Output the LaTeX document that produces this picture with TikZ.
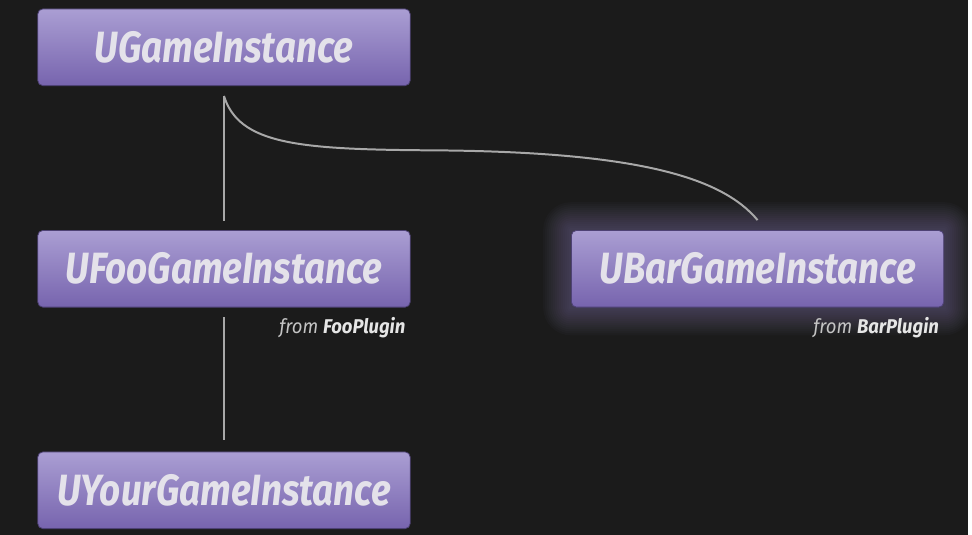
\documentclass[tikz,border=0pt]{standalone}
\usepackage{fontspec}
\setmainfont{Fira Sans}
\usetikzlibrary{backgrounds,calc}
\definecolor{bg}{HTML}{1B1B1B}
\definecolor{boxtop}{HTML}{AA9ED3}
\definecolor{boxbot}{HTML}{7764AE}
\definecolor{boxline}{HTML}{4E4275}
\definecolor{txt}{HTML}{E4E2EA}
\definecolor{wire}{HTML}{A8A8A8}
\definecolor{glow}{HTML}{B4A6F0}
\definecolor{subtxt}{HTML}{C4C4C4}
\definecolor{subbold}{HTML}{E6E6E6}
\newcommand{\boxtitle}[1]{\scalebox{0.84}[1]{#1}}
\begin{document}
\begin{tikzpicture}[x=1pt,y=-1pt,
  classbox/.style={rectangle, rounded corners=5pt, minimum width=374pt, minimum height=77pt,
    top color=boxtop, bottom color=boxbot, draw=boxline, line width=0.8pt, inner sep=0pt,
    text=txt, font=\fontsize{44}{44}\selectfont\bfseries\itshape},
  wireline/.style={draw=wire, line width=2pt},
  origin/.style={anchor=north east, inner sep=0pt, text=subtxt, font=\fontsize{20}{20}\selectfont\itshape}
]
\node[classbox] (g) at (225,47.5) {\boxtitle{UGameInstance}};
\node[classbox] (foo) at (225,270) {\boxtitle{UFooGameInstance}};
\node[classbox] (your) at (225,492.5) {\boxtitle{UYourGameInstance}};
\node[classbox] (bar) at (761,270) {\boxtitle{UBarGameInstance}};

\node[origin] (foofrom) at ([shift={(-5pt,-10pt)}]foo.south east) {\scalebox{0.93}[1]{from \textcolor{subbold}{\bfseries FooPlugin}}};
\node[origin] (barfrom) at ([shift={(-5pt,-10pt)}]bar.south east) {\scalebox{0.93}[1]{from \textcolor{subbold}{\bfseries BarPlugin}}};

\coordinate (gs) at ([yshift=-10pt]g.south);
\draw[wireline] (gs) -- ([yshift=9pt]foo.north);
\draw[wireline] ([yshift=-10pt]foo.south) -- ([yshift=12pt]your.north);
\draw[wireline] (gs) .. controls (240,145) and (300,150) .. (430,151)
  .. controls (640,152) and (725,178) .. ([yshift=10pt]bar.north);

\begin{scope}[on background layer]
  \fill[bg] (0,0) rectangle (972,537);
  \foreach \d in {2,4,...,28}{
    \fill[glow, opacity=0.022, rounded corners=\d pt]
      ([shift={(-\d pt,\d pt)}]bar.north west) rectangle ([shift={(\d pt,-\d pt)}]bar.south east);
  }
\end{scope}
\useasboundingbox (0,0) rectangle (972,537);
\end{tikzpicture}
\end{document}
